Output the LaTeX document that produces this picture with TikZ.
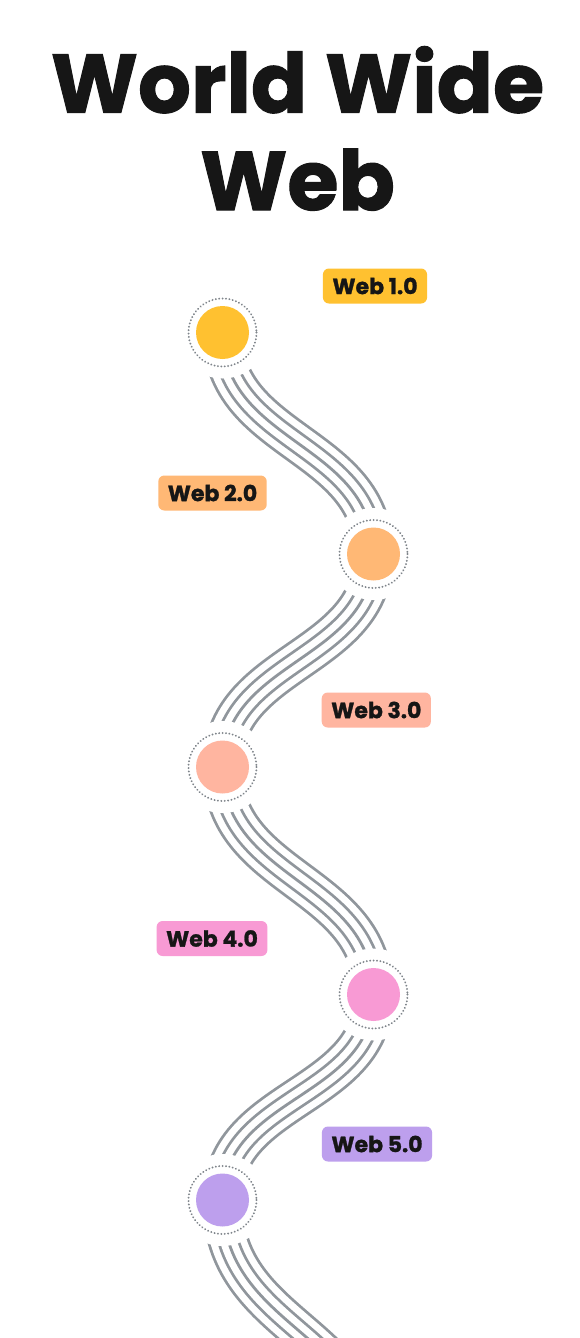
\documentclass[tikz,border=0pt]{standalone}
\usepackage{fontspec}
\setmainfont{Poppins}
\definecolor{linegray}{HTML}{90969C}
\definecolor{ringgray}{HTML}{7F858B}
\definecolor{inkdark}{HTML}{161616}
\definecolor{cyellow}{HTML}{FFC130}
\definecolor{corange}{HTML}{FFB875}
\definecolor{csalmon}{HTML}{FFB5A0}
\definecolor{cpink}{HTML}{F89AD4}
\definecolor{cpurple}{HTML}{BD9FED}
\newcommand\wavestrand[3]{%
  \foreach \w/\c in {41.2/linegray, 35.6/white, 22.0/linegray, 16.4/white, 2.8/linegray}
    \draw[line width=\w pt, draw=\c] (#1.center) .. controls +(0,#3) and +(0,-#3) .. (#2.center);}
\begin{document}
\begin{tikzpicture}[x=1pt,y=-1pt,
  dot/.style={circle, minimum size=53pt, inner sep=0pt},
  ring/.style={draw=ringgray, line width=2.1pt, dash pattern=on 0.01pt off 3.4pt, line cap=round},
  mask/.style={fill=white},
  tag/.style={rounded corners=6pt, minimum height=35pt, inner xsep=9.5pt, inner ysep=0pt,
    font=\fontsize{22}{26}\selectfont\bfseries\addfontfeatures{FakeBold=1.2}, text=inkdark},
  titletext/.style={font=\fontsize{83}{97}\selectfont\bfseries\addfontfeatures{FakeBold=1.2}, text=inkdark, inner sep=0pt, anchor=base}]
\useasboundingbox (0,0) rectangle (579,1338);
\fill[white] (0,0) rectangle (579,1338);
% circle positions
\coordinate (p1) at (222.5,332.5);
\coordinate (p2) at (373.5,554);
\coordinate (p3) at (222.5,767);
\coordinate (p4) at (373.5,994.5);
\coordinate (p5) at (222.5,1200);
\coordinate (p6) at (373.5,1460);
% strands
\wavestrand{p1}{p2}{112}
\wavestrand{p2}{p3}{108}
\wavestrand{p3}{p4}{115}
\wavestrand{p4}{p5}{105}
\wavestrand{p5}{p6}{130}
% masks
\foreach \i in {1,...,6} \fill[mask] (p\i) circle (46);
% circles
\node[dot, fill=cyellow] (c1) at (p1) {};
\node[dot, fill=corange] (c2) at (p2) {};
\node[dot, fill=csalmon] (c3) at (p3) {};
\node[dot, fill=cpink] (c4) at (p4) {};
\node[dot, fill=cpurple] (c5) at (p5) {};
\foreach \i in {1,...,5} \draw[ring] (p\i) circle (34);
% labels
\node[tag, fill=cyellow] (t1) at (375,286) {Web 1.0};
\node[tag, fill=corange] (t2) at (212.5,493) {Web 2.0};
\node[tag, fill=csalmon] (t3) at (376.3,710) {Web 3.0};
\node[tag, fill=cpink] (t4) at (212,938.5) {Web 4.0};
\node[tag, fill=cpurple] (t5) at (377,1144) {Web 5.0};
% title
\node[titletext] (title1) at (297.5,112.7) {World Wide};
\node[titletext] (title2) at (297.5,210) {Web};
\end{tikzpicture}
\end{document}
